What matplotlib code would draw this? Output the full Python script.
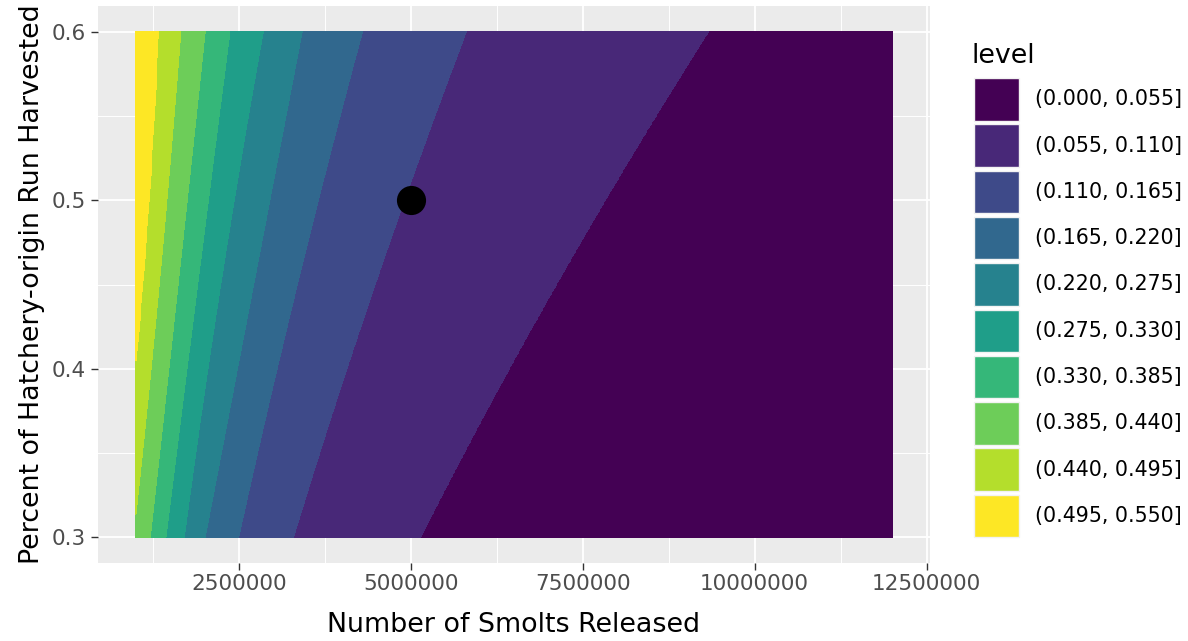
import numpy as np
import matplotlib
matplotlib.use("Agg")
import matplotlib.pyplot as plt
from matplotlib.patches import Rectangle
from matplotlib.ticker import FixedLocator

# ---------------- data ----------------
# contour break values (legend intervals)
breaks = [0.000, 0.055, 0.110, 0.165, 0.220, 0.275, 0.330, 0.385, 0.440, 0.495, 0.550]
colors = ["#440154", "#482878", "#3E4A89", "#31688E", "#26828E",
          "#1F9E89", "#35B779", "#6DCD59", "#B4DE2C", "#FDE725"]

# y positions at which the contour boundaries were read
y_samples = [0.30, 0.35, 0.40, 0.45, 0.50, 0.55, 0.60]
# x position (millions of smolts) of each contour boundary at the y_samples
b_0055 = [5.10, 5.83, 6.46, 7.09, 7.80, 8.55, 9.35]
b_0110 = [3.28, 3.68, 4.07, 4.46, 4.90, 5.35, 5.80]
b_0165 = [2.49, 2.77, 3.05, 3.34, 3.65, 3.97, 4.29]
b_0220 = [2.00, 2.24, 2.49, 2.71, 2.93, 3.18, 3.42]
b_0275 = [1.71, 1.86, 2.04, 2.23, 2.43, 2.65, 2.84]
b_0330 = [1.44, 1.58, 1.75, 1.89, 2.05, 2.22, 2.36]
b_0385 = [1.21, 1.34, 1.48, 1.61, 1.74, 1.89, 2.00]
b_0440 = [0.96, 1.10, 1.22, 1.33, 1.45, 1.56, 1.65]
b_0495 = [0.74, 0.86, 0.98, 1.10, 1.19, 1.26, 1.32]

x_range = [1.0e6, 12.0e6]
y_range = [0.30, 0.60]

# highlighted point
point_x = [5.0e6]
point_y = [0.50]

x_ticks = [2500000, 5000000, 7500000, 10000000, 12500000]
y_ticks = [0.3, 0.4, 0.5, 0.6]

# ---------------- build the field from the boundary readings ----------------
bounds = [b_0495, b_0440, b_0385, b_0330, b_0275, b_0220, b_0165, b_0110, b_0055]
bound_levels = [0.495, 0.440, 0.385, 0.330, 0.275, 0.220, 0.165, 0.110, 0.055]
# smooth each boundary (quadratic through its readings) to get curved contours
bound_fits = [np.polyfit(y_samples, b, 2) for b in bounds]

xs = np.linspace(x_range[0], x_range[1], 900)
ys = np.linspace(y_range[0], y_range[1], 500)
X, Y = np.meshgrid(xs, ys)
Z = np.empty_like(X)
for i, yv in enumerate(ys):
    pos = [np.polyval(f, yv) * 1e6 for f in bound_fits]
    Z[i, :] = np.interp(xs, pos, bound_levels, left=0.52, right=0.03)

# ---------------- figure ----------------
W, H = 1188, 641
fig = plt.figure(figsize=(W / 100, H / 100), dpi=100)
plt.rcParams['font.family'] = ['DejaVu Sans']

left_px, right_px, top_px, bot_px = 97.7, 930.0, 6.4, 562.6
ax = fig.add_axes([left_px / W, 1 - bot_px / H, (right_px - left_px) / W, (bot_px - top_px) / H])
ax.set_facecolor("#EBEBEB")
for s in ax.spines.values():
    s.set_visible(False)

cs = ax.contourf(X, Y, Z, levels=breaks, colors=colors, zorder=2)
cs.set_edgecolor("face")
cs.set_linewidth(0.6)

ax.scatter(point_x, point_y, s=440, color="black", zorder=3, linewidths=0)

xpad = 0.05 * (x_range[1] - x_range[0])
ypad = 0.05 * (y_range[1] - y_range[0])
ax.set_xlim(x_range[0] - xpad, x_range[1] + xpad)
ax.set_ylim(y_range[0] - ypad, y_range[1] + ypad)

ax.xaxis.set_major_locator(FixedLocator(x_ticks))
ax.set_xticklabels([str(v) for v in x_ticks])
ax.yaxis.set_major_locator(FixedLocator(y_ticks))
ax.set_yticklabels([f"{v:.1f}" for v in y_ticks])
ax.xaxis.set_minor_locator(FixedLocator([(a + b) / 2 for a, b in zip([0] + x_ticks[:-1], x_ticks)]))
ax.yaxis.set_minor_locator(FixedLocator([(a + b) / 2 for a, b in zip(y_ticks[:-1], y_ticks[1:])]))

ax.set_axisbelow(True)
ax.grid(which="major", color="white", linewidth=1.3)
ax.grid(which="minor", color="white", linewidth=0.7)
ax.tick_params(which="major", length=4.8, width=1.0, color="#333333",
               labelsize=15.5, labelcolor="#4D4D4D", pad=3.5)
ax.tick_params(which="minor", length=0)

ax.set_xlabel("Number of Smolts Released", fontsize=19.4, color="black")
ax.set_ylabel("Percent of Hatchery-origin Run Harvested", fontsize=19.4, color="black")
ax.xaxis.set_label_coords(0.5, -0.088)
ax.yaxis.set_label_coords(-0.0635, 0.5)

# ---------------- legend ----------------
lax = fig.add_axes([0, 0, 1, 1], facecolor="none")
lax.set_xlim(0, W)
lax.set_ylim(H, 0)
lax.axis("off")
lax.text(971.7, 62.7, "level", fontsize=19.4, ha="left", va="baseline", color="black")
key_x, key_w, key_top, key_h, key_step = 973.6, 45.3, 78.0, 42.5, 46.3
for i in range(len(colors)):
    y0 = key_top + i * key_step
    lax.add_patch(Rectangle((key_x, y0), key_w, key_h, facecolor=colors[i],
                            edgecolor="#F2F2F2", linewidth=1.0))
    lab = f"({breaks[i]:.3f}, {breaks[i + 1]:.3f}]"
    lax.text(1035.0, y0 + key_h / 2, lab, fontsize=14.8, ha="left", va="center", color="black")

fig.savefig("out.png", dpi=100, facecolor="white")
